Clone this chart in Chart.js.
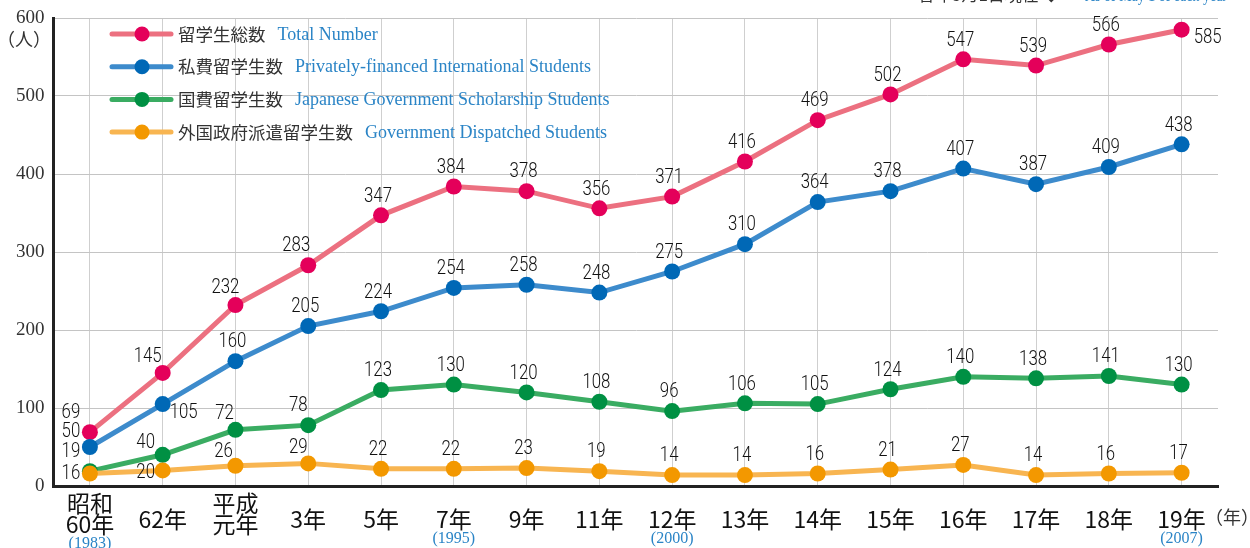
<!DOCTYPE html>
<html lang="ja">
<head>
  <meta charset="UTF-8">
  <title>留学生数の推移</title>
  <script src="https://cdn.jsdelivr.net/npm/chart.js"></script>
  <style>
    html, body { margin: 0; padding: 0; background: #fff; }
    #wrap { width: 1250px; height: 548px; }
  </style>
</head>
<body>
  <div id="wrap"><canvas id="myChart"></canvas></div>
  <script>
    // x categories (和暦) and the western year shown under some of them
    const categories = ['昭和60年', '62年', '平成元年', '3年', '5年', '7年', '9年', '11年',
      '12年', '13年', '14年', '15年', '16年', '17年', '18年', '19年'];
    const tickLines = [['昭和', '60年'], ['62年'], ['平成', '元年'], ['3年'], ['5年'], ['7年'],
      ['9年'], ['11年'], ['12年'], ['13年'], ['14年'], ['15年'], ['16年'], ['17年'], ['18年'], ['19年']];
    const westernYears = ['(1983)', '', '', '', '', '(1995)', '', '', '(2000)', '', '', '', '', '', '', '(2007)'];
    const yTicks = [0, 100, 200, 300, 400, 500, 600];

    const totalNumber = [69, 145, 232, 283, 347, 384, 378, 356, 371, 416, 469, 502, 547, 539, 566, 585];
    const privatelyFinanced = [50, 105, 160, 205, 224, 254, 258, 248, 275, 310, 364, 378, 407, 387, 409, 438];
    const govScholarship = [19, 40, 72, 78, 123, 130, 120, 108, 96, 106, 105, 124, 140, 138, 141, 130];
    const govDispatched = [16, 20, 26, 29, 22, 22, 23, 19, 14, 14, 16, 21, 27, 14, 16, 17];

    const seriesJa = ['留学生総数', '私費留学生数', '国費留学生数', '外国政府派遣留学生数'];
    const seriesEn = ['Total Number', 'Privately-financed International Students',
      'Japanese Government Scholarship Students', 'Government Dispatched Students'];
    const lineColors = ['#ec7080', '#3d8bcc', '#3aac62', '#f8b551'];
    const pointColors = ['#e4005a', '#0068b6', '#009043', '#f39800'];

    // where each value label sits relative to its point (default: just above)
    const defaultShift = [-3, -19];
    const labelShift = [
      { 0: [-19, -19], 1: [-15, -16], 2: [-10, -17], 3: [-12, -20], 15: [26, 8] },
      { 0: [-19, -15], 1: [21, 9] },
      { 0: [-19, -19], 1: [-17, -12], 2: [-11, -16], 3: [-10, -19] },
      { 0: [-19, 0], 1: [-17, 2], 2: [-12, -14], 3: [-10, -16] }
    ];

    const valueLabels = {
      id: 'valueLabels',
      afterDatasetsDraw(chart) {
        const ctx = chart.ctx;
        ctx.save();
        ctx.font = '300 21px Roboto, "Liberation Sans", sans-serif';
        ctx.fillStyle = '#111';
        ctx.textAlign = 'center';
        ctx.textBaseline = 'middle';
        chart.data.datasets.forEach((ds, d) => {
          const meta = chart.getDatasetMeta(d);
          meta.data.forEach((pt, i) => {
            const s = labelShift[d][i] || defaultShift;
            ctx.save();
            ctx.translate(pt.x + s[0], pt.y + s[1]);
            ctx.scale(0.8, 1);
            ctx.fillText(String(ds.data[i]), 0, 0);
            ctx.restore();
          });
        });
        ctx.restore();
      }
    };

    const legendBox = {
      id: 'legendBox',
      afterDatasetsDraw(chart) {
        const ctx = chart.ctx;
        ctx.save();
        ctx.textBaseline = 'middle';
        seriesJa.forEach((name, i) => {
          const y = 34 + i * 32.7;
          ctx.strokeStyle = lineColors[i];
          ctx.lineWidth = 5;
          ctx.lineCap = 'round';
          ctx.beginPath();
          ctx.moveTo(112, y);
          ctx.lineTo(171, y);
          ctx.stroke();
          ctx.fillStyle = pointColors[i];
          ctx.beginPath();
          ctx.arc(142, y, 7.5, 0, Math.PI * 2);
          ctx.fill();
          ctx.font = '17.5px "Noto Sans CJK JP", sans-serif';
          ctx.fillStyle = '#333';
          ctx.textAlign = 'left';
          ctx.fillText(name, 178, y);
          const w = ctx.measureText(name).width;
          ctx.font = '18px "Liberation Serif", serif';
          ctx.fillStyle = '#2a84c6';
          ctx.fillText(seriesEn[i], 178 + w + 12, y + 1);
        });
        ctx.restore();
      }
    };

    const axisText = {
      id: 'axisText',
      afterDraw(chart) {
        const { ctx, chartArea } = chart;
        const x = chart.scales.x;
        ctx.save();
        ctx.textAlign = 'center';
        ctx.textBaseline = 'middle';
        tickLines.forEach((lines, i) => {
          const px = x.getPixelForTick(i);
          let y = lines.length > 1 ? chartArea.bottom + 17 : chartArea.bottom + 33;
          ctx.font = '23px "Noto Sans CJK JP", sans-serif';
          ctx.fillStyle = '#111';
          lines.forEach((t, j) => ctx.fillText(t, px, y + j * 21));
          if (westernYears[i]) {
            ctx.font = '16px "Liberation Serif", serif';
            ctx.fillStyle = '#2a84c6';
            ctx.fillText(westernYears[i], px, y + lines.length * 21 - 1);
          }
        });
        // unit labels
        ctx.font = '18px "Liberation Serif", "Noto Sans CJK JP", serif';
        ctx.fillStyle = '#333';
        ctx.fillText('（年）', 1232, chartArea.bottom + 33);
        ctx.fillText('（人）', 24, 41);
        // note at the very top (cut by the frame)
        ctx.textAlign = 'left';
        ctx.textBaseline = 'alphabetic';
        ctx.font = '17px "Noto Sans CJK JP", sans-serif';
        ctx.fillStyle = '#333';
        ctx.fillText('各年5月1日現在 ◆', 918, 1, 150);
        ctx.font = '16px "Liberation Serif", serif';
        ctx.fillStyle = '#2a84c6';
        ctx.fillText('As of May 1 of each year', 1085, 1, 142);
        ctx.restore();
      }
    };

    const datasetOrder = [3, 2, 1, 0];
    const seriesData = [totalNumber, privatelyFinanced, govScholarship, govDispatched];

    const ctx = document.getElementById('myChart');
    const myChart = new Chart(ctx, {
      type: 'line',
      data: {
        labels: categories,
        datasets: seriesData.map((data, i) => ({
          label: seriesJa[i],
          data: data,
          order: datasetOrder[i],
          borderColor: lineColors[i],
          borderWidth: 5,
          pointRadius: 8,
          pointBorderWidth: 0,
          pointBackgroundColor: pointColors[i],
          tension: 0,
          clip: false
        }))
      },
      options: {
        responsive: true,
        maintainAspectRatio: false,
        animation: false,
        layout: { padding: { top: 18, right: 32, bottom: 62, left: 7 } },
        plugins: { legend: { display: false }, tooltip: { enabled: false } },
        scales: {
          x: {
            offset: true,
            grid: { color: '#cfcfcf', lineWidth: 1, drawTicks: false },
            border: { color: '#222', width: 3 },
            ticks: { display: false }
          },
          y: {
            min: yTicks[0],
            max: yTicks[yTicks.length - 1],
            afterBuildTicks: (scale) => { scale.ticks = yTicks.map(v => ({ value: v })); },
            grid: { color: '#c4c4c4', lineWidth: 1, drawTicks: false },
            border: { color: '#222', width: 3 },
            ticks: {
              padding: 9,
              color: '#333',
              font: { family: '"Liberation Serif", serif', size: 19, lineHeight: 0.5 }
            }
          }
        }
      },
      plugins: [valueLabels, legendBox, axisText]
    });
  </script>
</body>
</html>
